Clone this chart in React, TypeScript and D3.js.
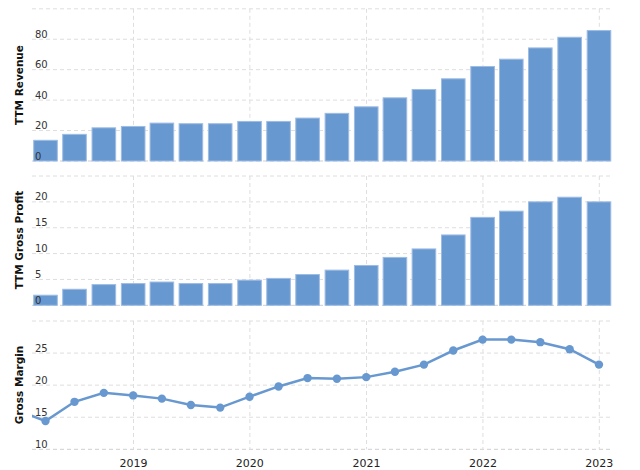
import React from "react";
import * as d3 from "d3";

const quarters = [
  "2017-12-31", "2018-03-31", "2018-06-30", "2018-09-30", "2018-12-31",
  "2019-03-31", "2019-06-30", "2019-09-30", "2019-12-31",
  "2020-03-31", "2020-06-30", "2020-09-30", "2020-12-31",
  "2021-03-31", "2021-06-30", "2021-09-30", "2021-12-31",
  "2022-03-31", "2022-06-30", "2022-09-30", "2022-12-31",
];
const revenue = [11.8, 13.6, 17.5, 21.8, 22.7, 24.9, 24.5, 24.5, 26.0, 26.0, 28.2, 31.3, 35.6, 41.5, 47.0, 54.0, 62.1, 66.9, 74.3, 81.3, 85.7];
const grossProfit = [1.9, 1.95, 3.1, 4.0, 4.2, 4.5, 4.2, 4.2, 4.86, 5.2, 5.95, 6.8, 7.7, 9.26, 10.9, 13.6, 17.0, 18.2, 20.0, 20.9, 20.0];
const margin = [16.1, 14.4, 17.4, 18.8, 18.4, 17.9, 16.9, 16.5, 18.2, 19.8, 21.1, 21.0, 21.25, 22.1, 23.2, 25.4, 27.1, 27.1, 26.7, 25.6, 23.2];
const yearTicks = ["2019-01-01", "2020-01-01", "2021-01-01", "2022-01-01", "2023-01-01"];
const revTicks = [0, 20, 40, 60, 80, 100];
const gpTicks = [0, 5, 10, 15, 20, 25];
const gmTicks = [10, 15, 20, 25, 30];

const W = 640, H = 470;
const LEFT = 32, RIGHT = 612;
const BLUE = "#6898d0";
const GRID = "#dedede";
const FONT = "DejaVu Sans, Verdana, sans-serif";

const parse = d3.timeParse("%Y-%m-%d");
const dates = quarters.map((q) => parse(q) as Date);
const years = yearTicks.map((q) => parse(q) as Date);

const x = d3.scaleTime()
  .domain([parse("2019-01-01") as Date, parse("2023-01-01") as Date])
  .range([133.5, 599.3]);

const BAR_W = 23.6;

function Grid({ y, ticks, labelMax }: { y: d3.ScaleLinear<number, number>; ticks: number[]; labelMax: number }) {
  const [y0, y1] = y.range();
  return (
    <g>
      {ticks.map((t) => (
        <line key={"h" + t} x1={LEFT} x2={RIGHT} y1={y(t)} y2={y(t)} stroke={t === ticks[0] ? "#cfcfcf" : GRID} strokeWidth={1} strokeDasharray="4,3" />
      ))}
      {years.map((d, i) => (
        <line key={"v" + i} x1={x(d)} x2={x(d)} y1={y1} y2={y0} stroke={GRID} strokeWidth={1} strokeDasharray="4,3" />
      ))}
    </g>
  );
}

function Labels({ y, ticks, labelMax }: { y: d3.ScaleLinear<number, number>; ticks: number[]; labelMax: number }) {
  return (
    <g>
      {ticks.filter((t) => t <= labelMax).map((t) => (
        <text key={t} x={35} y={y(t) - 1.5} fontSize={10} fontFamily={FONT} fill="#333">{t}</text>
      ))}
    </g>
  );
}

function Title({ text, cy }: { text: string; cy: number }) {
  return (
    <text transform={`translate(23,${cy}) rotate(-90)`} textAnchor="middle" fontSize={10.5} fontWeight="bold" fontFamily={FONT} fill="#111">{text}</text>
  );
}

export default function App() {
  const yRev = d3.scaleLinear().domain([0, 100]).range([161, 8.8]);
  const yGp = d3.scaleLinear().domain([0, 25]).range([305.3, 176]);
  const yGm = d3.scaleLinear().domain([10, 30]).range([449.3, 321]);

  const line = d3.line<number>()
    .x((_, i) => x(dates[i]))
    .y((v) => yGm(v));

  return (
    <svg width={W} height={H} style={{ position: "absolute", left: 0, top: 0, background: "#fff" }}>
      <defs>
        <clipPath id="plotclip">
          <rect x={LEFT} y={0} width={RIGHT - LEFT} height={H} />
        </clipPath>
      </defs>

      <Grid y={yRev} ticks={revTicks} labelMax={80} />
      <Grid y={yGp} ticks={gpTicks} labelMax={20} />
      <Grid y={yGm} ticks={gmTicks} labelMax={25} />

      <g clipPath="url(#plotclip)">
        {revenue.map((v, i) => (
          <rect key={"r" + i} x={x(dates[i]) - BAR_W / 2} y={yRev(v)} width={BAR_W} height={yRev(0) - yRev(v)} fill={BLUE} stroke="#9dbce4" strokeWidth={1} />
        ))}
        {grossProfit.map((v, i) => (
          <rect key={"g" + i} x={x(dates[i]) - BAR_W / 2} y={yGp(v)} width={BAR_W} height={yGp(0) - yGp(v)} fill={BLUE} stroke="#9dbce4" strokeWidth={1} />
        ))}
        <path d={line(margin) || ""} fill="none" stroke={BLUE} strokeWidth={2.5} />
        {margin.map((v, i) => (
          <circle key={"c" + i} cx={x(dates[i])} cy={yGm(v)} r={4.2} fill={BLUE} />
        ))}
      </g>

      <Labels y={yRev} ticks={revTicks} labelMax={80} />
      <Labels y={yGp} ticks={gpTicks} labelMax={20} />
      <Labels y={yGm} ticks={gmTicks} labelMax={25} />

      <Title text="TTM Revenue" cy={85} />
      <Title text="TTM Gross Profit" cy={240} />
      <Title text="Gross Margin" cy={385} />

      {years.map((d, i) => (
        <text key={"y" + i} x={x(d)} y={466.5} textAnchor="middle" fontSize={11} fontFamily={FONT} fill="#222">{d3.timeFormat("%Y")(d)}</text>
      ))}
    </svg>
  );
}
